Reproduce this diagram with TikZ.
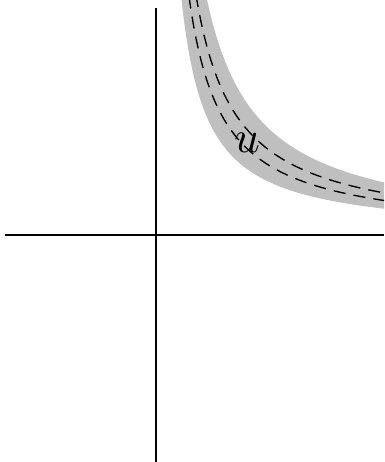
\documentclass[tikz,border=0pt]{standalone}
\usepackage{tikz}
\tikzset{
  band/.style={fill=black!25},
  dashcurve/.style={draw=black, line width=0.3pt, dash pattern=on 2.7pt off 1.8pt},
  axis/.style={draw=black, line width=0.45pt}
}
\begin{document}
\begin{tikzpicture}[x=0.2222pt,y=0.2222pt]
\useasboundingbox (-156,-227) rectangle (228,235);
\begin{scope}
\clip (-156,-227) rectangle (228,235);
\fill[band] plot[domain=25:232,samples=250] (\x,{6000/\x}) -- plot[domain=232:50,samples=250] (\x,{12000/\x}) -- cycle;
\draw[dashcurve] plot[domain=33:232,samples=250] (\x,{7870/\x});
\draw[dashcurve] plot[domain=40:232,samples=250] (\x,{9600/\x});
\end{scope}
\draw[axis] (-151,0) -- (228,0);
\draw[axis] (0,-227) -- (0,227);
\node (u) at (91,92) {$u$};
\end{tikzpicture}
\end{document}
